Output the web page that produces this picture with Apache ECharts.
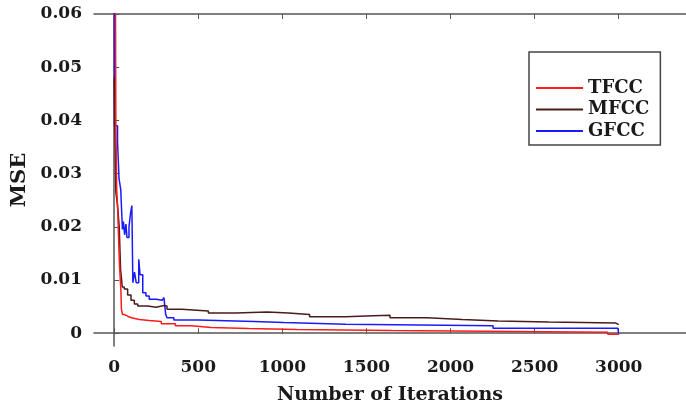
<!DOCTYPE html>
<html>
<head>
<meta charset="utf-8">
<script src="https://cdn.jsdelivr.net/npm/echarts@6/dist/echarts.min.js"></script>
<style>
  html, body { margin: 0; padding: 0; background: #fff; }
  #main { width: 686px; height: 410px; }
</style>
</head>
<body>
<div id="main"></div>
<script>
var xTicks = [0, 500, 1000, 1500, 2000, 2500, 3000];
var yTicks = [0, 0.01, 0.02, 0.03, 0.04, 0.05, 0.06];

// TFCC (red)
var tfccIter = [0, 8, 10, 15, 20, 28, 32, 40, 43, 50, 62, 80, 102, 150, 208, 280, 364, 460, 577, 800, 1085, 1650, 2935, 3000];
var tfccMse = [0.075, 0.06, 0.039, 0.027, 0.024, 0.016, 0.0125, 0.008, 0.0045, 0.0035, 0.0032, 0.0029, 0.0026, 0.0024, 0.0022, 0.0018, 0.0014, 0.0011, 0.0009, 0.0007, 0.0005, 0.0002, -0.0002, -0.0002];

// MFCC (dark brown)
var mfccIter = [0, 4, 10, 20, 30, 38, 48, 60, 80, 100, 120, 140, 200, 248, 296, 314, 402, 560, 723, 910, 1036, 1162, 1376, 1541, 1640, 1862, 2070, 2284, 2584, 2983, 3000];
var mfccMse = [0.048, 0.039, 0.0265, 0.024, 0.02, 0.012, 0.0087, 0.0083, 0.0072, 0.0062, 0.0055, 0.0051, 0.0049, 0.0052, 0.0051, 0.0045, 0.0042, 0.0038, 0.004, 0.0038, 0.0035, 0.0031, 0.0033, 0.0034, 0.0029, 0.0026, 0.0023, 0.0021, 0.0019, 0.0016, 0.0016];

// GFCC (blue)
var gfccIter = [0, 2, 20, 29, 39, 49, 55, 62, 70, 76, 88, 97, 105, 111, 121, 131, 146, 154, 170, 189, 208, 250, 285, 296, 306, 314, 355, 500, 832, 1007, 1377, 2253, 2995, 3000];
var gfccMse = [0.075, 0.039, 0.036, 0.029, 0.027, 0.0195, 0.021, 0.0185, 0.0205, 0.018, 0.02, 0.0225, 0.024, 0.0095, 0.0115, 0.0095, 0.0139, 0.011, 0.0076, 0.007, 0.0064, 0.0062, 0.0061, 0.0067, 0.0036, 0.0029, 0.0025, 0.0022, 0.002, 0.0017, 0.0014, 0.00094, 0.00094, -0.0002];

function pairs(xs, ys) {
  return xs.map(function (x, i) { return [x, ys[i]]; });
}

var chartDom = document.getElementById('main');
var myChart = echarts.init(chartDom);
var font = 'DejaVu Serif';
var axisColor = '#555';
var plain = function (v) { return String(v); };

var option = {
  animation: false,
  backgroundColor: '#fff',
  grid: { left: 94, top: 14, width: 603, height: 332, containLabel: false },
  legend: {
    orient: 'vertical',
    left: 529,
    top: 52,
    padding: [27, 11, 5, 7],
    itemGap: 3.5,
    itemWidth: 47,
    itemHeight: 2,
    icon: 'rect',
    borderColor: '#444',
    borderWidth: 1.5,
    backgroundColor: '#fff',
    textStyle: { fontFamily: font, fontWeight: 'bold', fontSize: 18, lineHeight: 18, color: '#1a1a1a' },
    data: ['TFCC', 'MFCC', 'GFCC']
  },
  xAxis: [
    {
      type: 'value',
      min: -120,
      max: 3400,
      name: 'Number of Iterations',
      nameLocation: 'middle',
      nameGap: 40,
      nameTextStyle: { fontFamily: font, fontWeight: 'bold', fontSize: 19, color: '#1a1a1a' },
      axisLine: { show: true, lineStyle: { color: axisColor, width: 1.5 } },
      axisTick: { show: true, inside: true, length: 5, customValues: xTicks, lineStyle: { color: axisColor } },
      axisLabel: { customValues: xTicks, formatter: plain, margin: 13, fontFamily: font, fontWeight: 'bold', fontSize: 17, color: '#1a1a1a' },
      splitLine: { show: false }
    },
    {
      type: 'value',
      position: 'top',
      min: -120,
      max: 3400,
      axisLine: { show: true, lineStyle: { color: axisColor, width: 1.5 } },
      axisTick: { show: true, inside: true, length: 5, customValues: xTicks, lineStyle: { color: axisColor } },
      axisLabel: { show: false },
      splitLine: { show: false }
    }
  ],
  yAxis: {
    type: 'value',
    min: -0.0024,
    max: 0.06,
    name: 'MSE',
    nameLocation: 'middle',
    nameGap: 57,
    nameRotate: 90,
    nameTextStyle: { fontFamily: font, fontWeight: 'bold', fontSize: 21, color: '#1a1a1a' },
    axisLine: { show: true, lineStyle: { color: axisColor, width: 1.5 } },
    axisTick: { show: true, inside: true, length: 5, customValues: yTicks, lineStyle: { color: axisColor } },
    axisLabel: { customValues: yTicks, formatter: plain, margin: 12, fontFamily: font, fontWeight: 'bold', fontSize: 17, color: '#1a1a1a' },
    splitLine: { show: false }
  },
  series: [
    {
      name: 'TFCC', type: 'line', step: 'end', showSymbol: false, symbol: 'none', clip: true,
      color: '#ff1a1a', lineStyle: { width: 1.5 },
      data: pairs(tfccIter, tfccMse), z: 3
    },
    {
      name: 'MFCC', type: 'line', step: 'end', showSymbol: false, symbol: 'none', clip: true,
      color: '#4a1c1c', lineStyle: { width: 1.5 },
      data: pairs(mfccIter, mfccMse), z: 2
    },
    {
      name: 'GFCC', type: 'line', step: 'end', showSymbol: false, symbol: 'none', clip: true,
      color: '#1a1aff', lineStyle: { width: 1.5 },
      data: pairs(gfccIter, gfccMse), z: 1
    }
  ]
};

option && myChart.setOption(option);
</script>
</body>
</html>
